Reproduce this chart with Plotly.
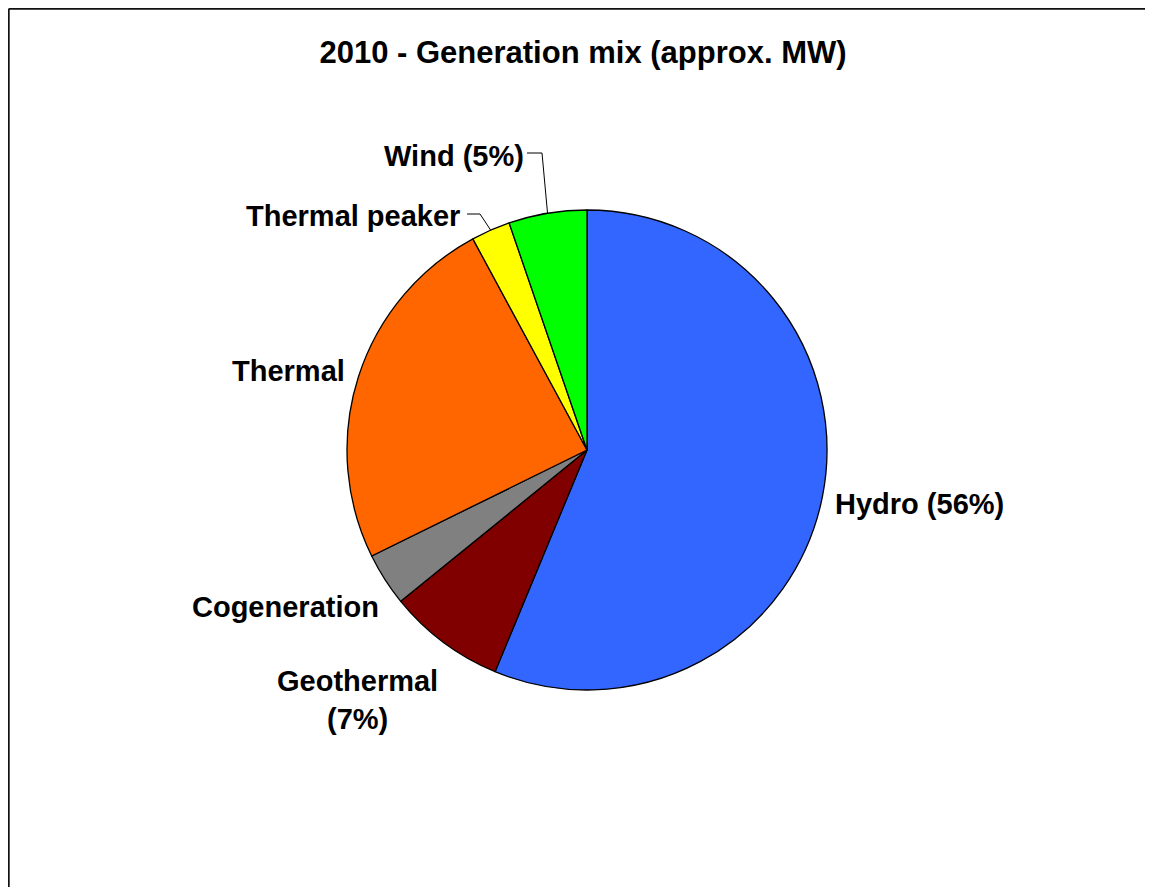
import math
import plotly.graph_objects as go

# approx. MW per source, clockwise from 12 o'clock
sources = ["Hydro", "Geothermal", "Cogeneration", "Thermal", "Thermal peaker", "Wind"]
mw = [5350, 750, 340, 2320, 250, 500]
slice_labels = ["Hydro (56%)", "Geothermal<br>(7%)", "Cogeneration", "Thermal", "Thermal peaker", "Wind (5%)"]
colors = ["#3366FF", "#800000", "#808080", "#FF6600", "#FFFF00", "#00FF00"]

OFF = 8  # page body margin
W, H = 1153 - 2 * OFF, 895 - 2 * OFF
cx, cy, r = 587, 450, 240  # pie centre / radius in screen pixels

# label centre positions (screen pixels)
label_pos = {
    "Hydro": (919, 504),
    "Geothermal": (357, 700),
    "Cogeneration": (285, 607),
    "Thermal": (288, 371),
    "Thermal peaker": (353, 216),
    "Wind": (454, 156),
}
# elbow leader lines: (label end x, elbow x, y)
leaders = {
    "Thermal peaker": (467, 480, 214),
    "Wind": (527, 542, 153),
}

FONT = "Liberation Sans, Arial, sans-serif"


def px2paper(x, y):
    return (x - OFF) / W, 1 - (y - OFF) / H


fig = go.Figure(go.Pie(
    labels=sources,
    values=mw,
    sort=False,
    direction="clockwise",
    rotation=0,
    marker=dict(colors=colors, line=dict(color="black", width=1.3)),
    textinfo="none",
    hoverinfo="label+value+percent",
    showlegend=False,
    domain=dict(x=[px2paper(cx - r, 0)[0], px2paper(cx + r, 0)[0]],
                y=[px2paper(0, cy + r)[1], px2paper(0, cy - r)[1]]),
))

annotations = []
for name, text in zip(sources, slice_labels):
    x, y = px2paper(*label_pos[name])
    annotations.append(dict(
        x=x, y=y, xref="paper", yref="paper", text="<b>" + text + "</b>", showarrow=False,
        xanchor="center", yanchor="middle",
        font=dict(family=FONT, size=29, color="black"), align="center",
    ))

# leader lines ending at each slice's mid-angle on the rim
total = sum(mw)
shapes = []
cum = 0
for name, v in zip(sources, mw):
    mid = (cum + v / 2) / total * 2 * math.pi
    cum += v
    if name in leaders:
        lx, ex, ly = leaders[name]
        rx = cx + r * math.sin(mid)
        ry = cy - r * math.cos(mid)
        p = [px2paper(lx, ly), px2paper(ex, ly), px2paper(rx, ry)]
        path = "M {} {} L {} {} L {} {}".format(p[0][0], p[0][1], p[1][0], p[1][1], p[2][0], p[2][1])
        shapes.append(dict(type="path", xref="paper", yref="paper", path=path,
                           line=dict(color="black", width=1)))

# chart area border: only the top and left edges fall inside the view
bx, by = 0.7 / W, 1 - 0.7 / H
shapes.append(dict(type="line", xref="paper", yref="paper", x0=bx, y0=0, x1=bx, y1=by,
                   line=dict(color="#111111", width=2)))
shapes.append(dict(type="line", xref="paper", yref="paper", x0=bx, y0=by, x1=1, y1=by,
                   line=dict(color="#111111", width=2)))

tx, ty = px2paper(583, 52)
fig.update_layout(
    width=W, height=H,
    margin=dict(l=0, r=0, t=0, b=0),
    paper_bgcolor="white",
    plot_bgcolor="white",
    title=dict(text="<b>2010 - Generation mix (approx. MW)</b>", x=tx, y=ty,
               xanchor="center", yanchor="middle",
               font=dict(family=FONT, size=31, color="black")),
    annotations=annotations,
    shapes=shapes,
)

fig.write_html("out.html")
